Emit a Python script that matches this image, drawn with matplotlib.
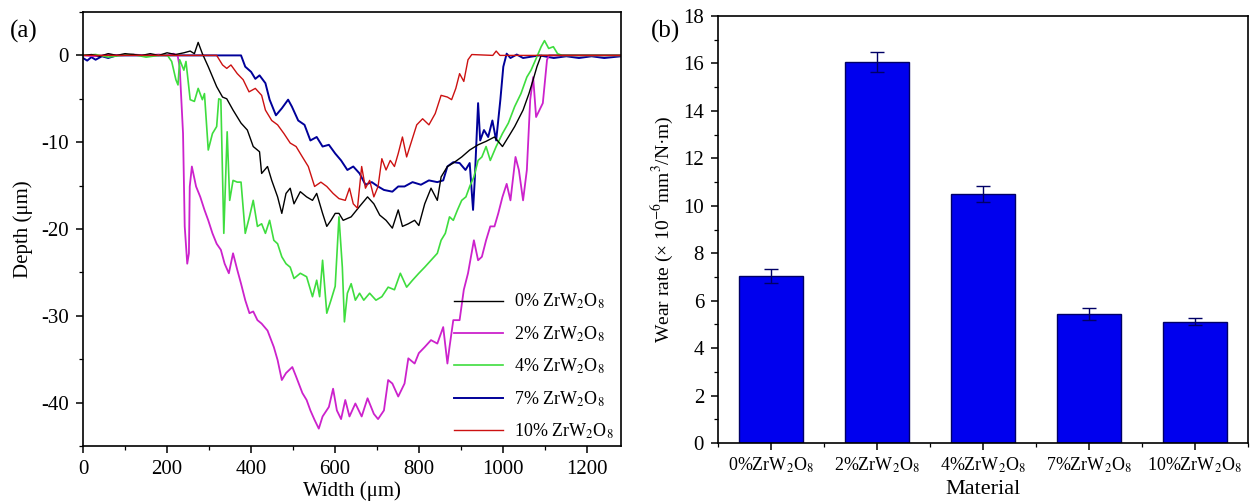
import matplotlib
matplotlib.use("Agg")
import matplotlib.pyplot as plt
from matplotlib.ticker import MultipleLocator
import numpy as np

plt.rcParams['font.family'] = ['Liberation Serif', 'DejaVu Serif']
plt.rcParams['mathtext.fontset'] = 'stix'
plt.rcParams['axes.unicode_minus'] = False

# ---------------- data: wear track profiles (panel a) ----------------
x0 = [0, 20, 40, 60, 80, 100, 120, 140, 160, 180, 200, 220, 240, 255, 265, 274, 284, 298, 318, 332, 342, 357, 376, 391,
      405, 420, 425, 439, 449, 463, 473, 483, 493, 502, 517, 532, 546, 556, 570, 580, 590, 600, 609, 619, 638,
      658, 677, 692, 706, 721, 736, 750, 760, 774, 789, 799, 813, 828, 843, 852, 867, 881, 901, 920, 940,
      959, 979, 998, 1012, 1027, 1047, 1061, 1071, 1080, 1090, 1150, 1200, 1280]
y0 = [0, 0.1, -0.1, 0.2, 0, 0.2, 0.1, 0, 0.2, 0, 0.3, 0.1, 0.3, 0.5, 0.2, 1.5, 0.2, -1.3, -3.6, -4.8, -5.0, -6.3, -7.8, -8.6,
      -10.5, -11.1, -13.6, -12.8, -14.4, -16.3, -18.2, -15.9, -15.3, -17.1, -15.7, -16.3, -16.7, -15.9, -18.2, -19.7, -19.0, -18.2, -18.2, -19.0, -18.6,
      -17.4, -16.3, -17.1, -18.4, -19.0, -19.9, -17.8, -19.7, -19.4, -19.0, -19.6, -17.1, -15.3, -16.7, -14.0, -12.8, -12.4, -11.7, -10.9, -10.3,
      -9.9, -9.4, -10.5, -9.4, -8.2, -6.3, -4.4, -2.8, -1.3, 0, 0, 0, 0]

x2 = [0, 30, 60, 90, 120, 150, 180, 200, 215, 225, 230, 238, 242, 248, 252, 254, 259, 269, 279, 289, 298, 308, 318, 328,
      337, 347, 357, 367, 376, 386, 396, 405, 415, 425, 439, 454, 463, 473, 483, 498, 507, 522, 532, 541, 551,
      561, 570, 585, 595, 604, 614, 624, 634, 648, 663, 677, 692, 702, 716, 726, 736, 750, 765, 774, 789, 799,
      813, 828, 843, 857, 867, 872, 881, 896, 906, 916, 930, 940, 949, 959, 969, 979, 988, 998, 1008, 1017,
      1029, 1037, 1047, 1056, 1064, 1071, 1078, 1090, 1094, 1104, 1109, 1200, 1280]
y2 = [0, -0.1, 0.1, 0, 0.1, 0, 0.1, 0, 0.2, 0, -1.3, -9.0, -19.7, -24.0, -22.8, -15.1, -12.8, -15.1, -16.3, -17.8, -19.0, -20.5, -21.7, -22.4,
      -24.0, -25.1, -22.8, -24.7, -26.3, -28.2, -29.7, -29.5, -30.5, -30.9, -31.7, -33.6, -35.1, -37.4, -36.6, -35.9, -37.0, -38.9, -39.7, -40.9, -42.0,
      -43.0, -41.6, -40.5, -38.4, -40.9, -41.9, -39.7, -41.6, -40.1, -41.6, -39.5, -41.3, -41.9, -40.9, -37.4, -37.8, -39.3, -37.8, -34.9, -35.5, -34.3,
      -33.6, -32.8, -33.2, -31.3, -35.5, -33.6, -30.5, -30.5, -27.0, -25.1, -21.3, -23.6, -23.2, -21.3, -19.7, -19.7, -18.2, -16.3, -14.8, -16.7,
      -11.7, -13.2, -16.7, -13.2, -5.1, -2.5, -7.1, -5.9, -5.5, -0.5, 0, 0, 0]

x4 = [0, 30, 60, 90, 120, 150, 180, 201, 211, 221, 226, 230, 240, 245, 255, 265, 274, 284, 289, 298, 308, 318, 323, 328,
      335, 343, 349, 357, 367, 376, 386, 396, 405, 415, 425, 434, 444, 454, 463, 473, 483, 493, 502, 517, 532,
      546, 556, 563, 570, 580, 590, 600, 609, 617, 622, 629, 638, 648, 658, 668, 682, 697, 711, 726, 741, 755,
      770, 784, 799, 813, 828, 843, 852, 862, 872, 881, 891, 901, 911, 920, 930, 940, 949, 959, 969, 983,
      998, 1012, 1027, 1042, 1056, 1066, 1080, 1090, 1098, 1108, 1119, 1129, 1140, 1200, 1280]
y4 = [0, 0.1, -0.2, 0, 0.1, -0.2, 0, 0, -0.7, -2.8, -3.4, -0.5, -1.7, -0.7, -5.1, -5.3, -3.8, -5.1, -4.4, -10.9, -9.0, -8.2, -5.0, -5.1,
      -20.5, -8.8, -16.7, -14.4, -14.6, -14.6, -20.5, -18.6, -16.7, -19.7, -19.4, -20.5, -19.0, -21.3, -21.7, -23.2, -24.0, -24.4, -25.7, -25.1, -25.5,
      -27.8, -25.9, -27.8, -23.6, -29.7, -28.2, -26.6, -18.6, -24.4, -30.7, -27.4, -26.3, -28.2, -27.4, -28.2, -27.4, -28.2, -27.8, -26.7, -27.0, -25.1,
      -26.7, -25.9, -25.1, -24.4, -23.6, -22.8, -21.3, -20.5, -18.6, -19.0, -17.8, -16.7, -16.3, -15.1, -14.0, -12.1, -11.7, -10.5, -12.1, -10.5,
      -9.0, -7.8, -5.9, -4.4, -2.5, -1.7, -0.15, 1.0, 1.7, 0.8, 1.0, 0.2, 0, 0, 0]

x7 = [0, 10, 20, 30, 45, 60, 80, 150, 300, 376, 386, 400, 410, 420, 434, 444, 459, 473, 488, 497, 512, 527, 541, 556,
      570, 585, 600, 614, 629, 643, 658, 672, 687, 702, 716, 736, 750, 765, 784, 804, 823, 843, 857, 867,
      881, 896, 910, 920, 928, 932, 940, 945, 954, 964, 974, 983, 993, 1000, 1008, 1017, 1032, 1047, 1066,
      1086, 1120, 1150, 1180, 1210, 1240, 1280]
y7 = [-0.3, -0.6, -0.2, -0.5, -0.1, -0.3, 0, 0, 0, 0, -1.3, -1.9, -2.7, -2.3, -3.2, -5.1, -6.9, -6.1, -5.1, -5.9, -7.5, -8.0, -9.8, -9.4,
      -10.5, -10.3, -11.3, -12.1, -13.2, -12.8, -13.6, -14.9, -14.6, -15.1, -15.5, -15.7, -15.1, -15.1, -14.6, -14.9, -14.4, -14.6, -14.4, -12.8,
      -12.3, -12.4, -13.2, -12.4, -17.8, -14.4, -5.5, -9.8, -8.6, -9.4, -7.5, -9.8, -5.1, -1.3, 0.2, -0.3, 0.1, -0.3, -0.15,
      0, -0.3, -0.1, -0.3, -0.1, -0.3, -0.1]

x10 = [0, 100, 200, 318, 332, 342, 352, 367, 381, 395, 410, 425, 434, 449, 463, 478, 493, 507, 522, 536, 551, 566, 580, 595,
       609, 624, 634, 643, 653, 663, 672, 682, 692, 702, 711, 721, 731, 741, 750, 760, 770, 779, 794, 808,
       823, 838, 852, 867, 877, 887, 896, 906, 916, 925, 975, 983, 992, 1100, 1280]
y10 = [0, 0, 0, 0, -1.1, -1.5, -1.1, -2.1, -2.8, -4.2, -3.8, -4.6, -6.3, -7.5, -8.0, -9.0, -10.1, -10.5, -11.7, -12.8, -15.1, -14.6, -15.1, -15.9,
       -16.5, -16.7, -15.3, -17.1, -17.6, -12.8, -15.3, -14.4, -16.3, -15.1, -11.9, -13.2, -12.1, -12.8, -11.3, -9.4, -11.7, -10.3, -8.0, -7.3,
       -8.0, -6.7, -4.6, -4.8, -5.1, -3.8, -2.1, -3.0, -0.5, 0.1, 0, 0.5, 0, 0, 0]

profile_labels = [r'0% ZrW$_2$O$_8$', r'2% ZrW$_2$O$_8$', r'4% ZrW$_2$O$_8$',
                  r'7% ZrW$_2$O$_8$', r'10% ZrW$_2$O$_8$']

# ---------------- data: wear rate (panel b) ----------------
materials = [r'0%ZrW$_2$O$_8$', r'2%ZrW$_2$O$_8$', r'4%ZrW$_2$O$_8$',
             r'7%ZrW$_2$O$_8$', r'10%ZrW$_2$O$_8$']
wear_rate = [7.05, 16.05, 10.5, 5.42, 5.12]
wear_err = [0.30, 0.43, 0.35, 0.25, 0.15]

# ---------------- figure ----------------
fig = plt.figure(figsize=(12.5, 5.04), dpi=100)
axa = fig.add_axes([83 / 1250, (504 - 446) / 504, 538 / 1250, 434 / 504])
axb = fig.add_axes([718 / 1250, (504 - 443) / 504, 530 / 1250, 427 / 504])

colors = ['#000000', '#CC22CC', '#3EDD3E', '#000099', '#CC1111']
series = [(x0, y0), (x2, y2), (x4, y4), (x7, y7), (x10, y10)]
lws = [1.0, 1.3, 1.2, 1.4, 1.0]
order = [3, 1, 2, 0, 4]
handles = {}
for i in order:
    xs, ys = series[i]
    ln, = axa.plot(xs, ys, color=colors[i], lw=lws[i], label=profile_labels[i])
    handles[i] = ln

axa.set_xlim(0, 1280)
axa.set_ylim(-45, 5)
axa.xaxis.set_major_locator(MultipleLocator(200))
axa.xaxis.set_minor_locator(MultipleLocator(100))
axa.yaxis.set_major_locator(MultipleLocator(10))
axa.yaxis.set_minor_locator(MultipleLocator(5))
axa.set_xlabel('Width (μm)', fontsize=15, labelpad=2)
axa.set_ylabel('Depth (μm)', fontsize=15, labelpad=6)
axa.legend([handles[i] for i in range(5)], profile_labels, loc='lower right',
           bbox_to_anchor=(1.0, -0.005), frameon=False, fontsize=13,
           handlelength=2.7, handletextpad=0.6, labelspacing=0.72, borderaxespad=0.0)
fig.text(0.008, 0.925, '(a)', fontsize=18)

xpos = np.arange(len(materials))
axb.bar(xpos, wear_rate, width=0.6, color='#0000EE', edgecolor='#000066', linewidth=1.0)
axb.errorbar(xpos, wear_rate, yerr=wear_err, fmt='none', ecolor='#000066',
             elinewidth=1.0, capsize=5, capthick=1.0)
axb.set_xlim(-0.5, 4.5)
axb.set_ylim(0, 18)
axb.set_xticks(xpos)
axb.set_xticklabels(materials)
axb.xaxis.set_minor_locator(MultipleLocator(0.5))
axb.yaxis.set_major_locator(MultipleLocator(2))
axb.yaxis.set_minor_locator(MultipleLocator(1))
axb.set_xlabel('Material', fontsize=16, labelpad=4)
axb.set_ylabel('Wear rate (× 10$^{-6}$mm$^{3}$/N·m)', fontsize=14, labelpad=6)
fig.text(0.521, 0.925, '(b)', fontsize=18)

for ax in (axa, axb):
    ax.tick_params(which='major', direction='out', length=5, width=1.1, labelsize=15, pad=5)
    ax.tick_params(which='minor', direction='out', length=3, width=0.9)
    for s in ax.spines.values():
        s.set_linewidth(1.2)
axb.tick_params(axis='x', labelsize=13, pad=4)

fig.savefig('out.png', dpi=100)
